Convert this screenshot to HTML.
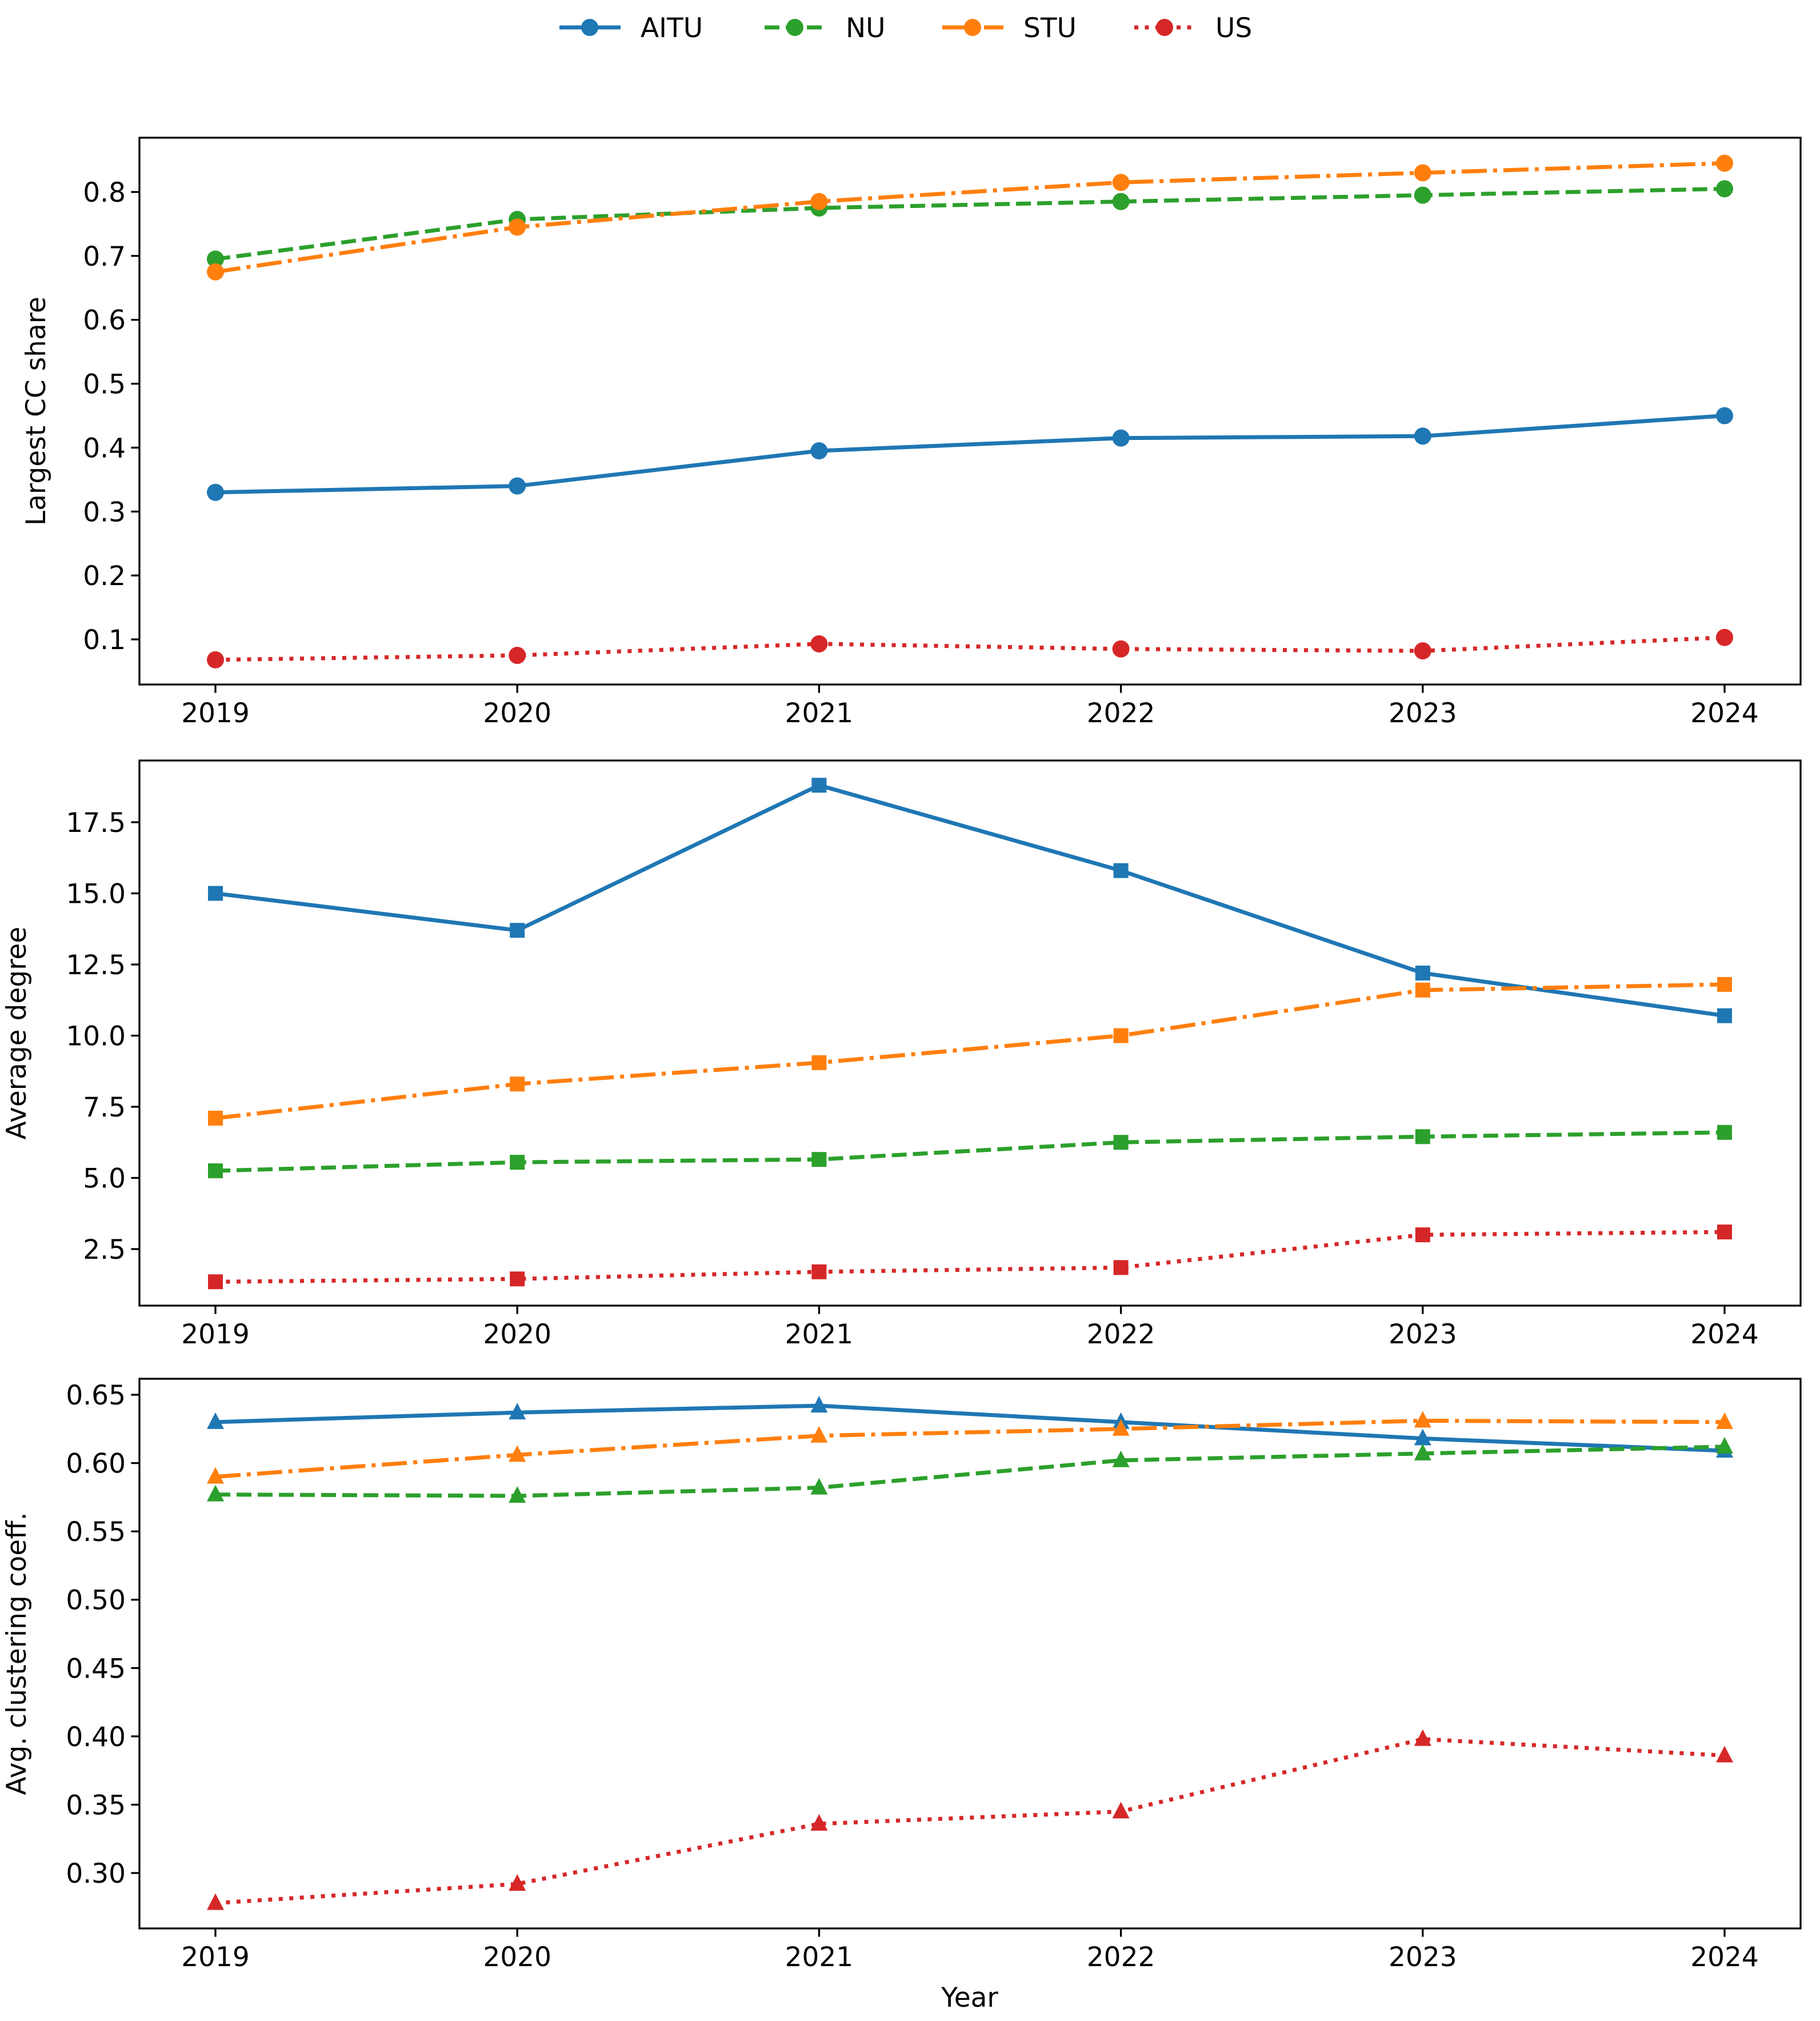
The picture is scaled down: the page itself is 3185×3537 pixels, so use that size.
<!DOCTYPE html>
<html><head><meta charset="utf-8">
<style>
html,body{margin:0;padding:0;background:#fff}
svg{display:block;font-family:"DejaVu Sans","Liberation Sans",sans-serif}
</style></head>
<body>
<svg id="chart" width="3185" height="3537" xmlns="http://www.w3.org/2000/svg"></svg>
<script>
const years = [2019, 2020, 2021, 2022, 2023, 2024];
const seriesNames = ["AITU", "NU", "STU", "US"];
const ccAITU = [0.33, 0.34, 0.395, 0.415, 0.418, 0.45];
const ccNU = [0.695, 0.757, 0.775, 0.785, 0.795, 0.805];
const ccSTU = [0.675, 0.745, 0.785, 0.815, 0.83, 0.845];
const ccUS = [0.068, 0.075, 0.093, 0.085, 0.082, 0.103];
const degAITU = [15.0, 13.7, 18.8, 15.8, 12.2, 10.7];
const degNU = [5.25, 5.55, 5.65, 6.25, 6.45, 6.6];
const degSTU = [7.1, 8.3, 9.05, 10.0, 11.6, 11.8];
const degUS = [1.35, 1.45, 1.7, 1.85, 3.0, 3.1];
const clAITU = [0.630, 0.637, 0.642, 0.630, 0.618, 0.609];
const clNU = [0.577, 0.576, 0.582, 0.602, 0.607, 0.612];
const clSTU = [0.590, 0.606, 0.620, 0.625, 0.631, 0.630];
const clUS = [0.278, 0.292, 0.336, 0.345, 0.398, 0.386];
const ccTicks = [0.1, 0.2, 0.3, 0.4, 0.5, 0.6, 0.7, 0.8];
const ccTickLabels = ["0.1","0.2","0.3","0.4","0.5","0.6","0.7","0.8"];
const degTicks = [2.5, 5.0, 7.5, 10.0, 12.5, 15.0, 17.5];
const degTickLabels = ["2.5","5.0","7.5","10.0","12.5","15.0","17.5"];
const clTicks = [0.30, 0.35, 0.40, 0.45, 0.50, 0.55, 0.60, 0.65];
const clTickLabels = ["0.30","0.35","0.40","0.45","0.50","0.55","0.60","0.65"];

const NS = "http://www.w3.org/2000/svg";
const svg = document.getElementById("chart");
const colors = ["#1f77b4", "#2ca02c", "#ff7f0e", "#d62728"];
const dashes = ["", "26,11", "44,11,7,11", "7,11.5"];
const FS = 47;
const LW = 7;
const L = 244, R = 3151;
const xDomain = [2019, 2024], xPix = [377, 3018];
function xScale(v){ return xPix[0] + (v - xDomain[0]) / (xDomain[1] - xDomain[0]) * (xPix[1] - xPix[0]); }
function mk(tag, attrs, parent){
  const e = document.createElementNS(NS, tag);
  for (const k in attrs) e.setAttribute(k, attrs[k]);
  (parent || svg).appendChild(e);
  return e;
}
function marker(g, shape, x, y, c){
  if (shape === "circle") return mk("circle", {cx:x, cy:y, r:15, fill:c}, g);
  if (shape === "square") return mk("rect", {x:x-13, y:y-13, width:26, height:26, fill:c}, g);
  return mk("polygon", {points:`${x},${y-17} ${x-15},${y+12} ${x+15},${y+12}`, fill:c}, g);
}
const panels = [
  {name:"largest-cc", top:241, bottom:1198, v0:0.8, p0:336, v1:0.1, p1:1119, ticks:ccTicks, labels:ccTickLabels, data:[ccAITU, ccNU, ccSTU, ccUS], shape:"circle", title:"Largest CC share", tx:79},
  {name:"average-degree", top:1331, bottom:2285, v0:17.5, p0:1439, v1:2.5, p1:2186, ticks:degTicks, labels:degTickLabels, data:[degAITU, degNU, degSTU, degUS], shape:"square", title:"Average degree", tx:45},
  {name:"clustering", top:2413, bottom:3375, v0:0.65, p0:2441, v1:0.30, p1:3278, ticks:clTicks, labels:clTickLabels, data:[clAITU, clNU, clSTU, clUS], shape:"triangle", title:"Avg. clustering coeff.", tx:45}
];
panels.forEach(p => {
  const yScale = v => p.p0 + (v - p.v0) / (p.v1 - p.v0) * (p.p1 - p.p0);
  const g = mk("g", {});
  
  
  p.ticks.forEach((t, i) => {
    const y = yScale(t);
    mk("line", {x1:L-14.6, x2:L, y1:y, y2:y, stroke:"#000", "stroke-width":3.3}, g);
    const tl = mk("text", {x:L-24, y:y+17, "font-size":FS, "text-anchor":"end", fill:"#000"}, g);
    tl.textContent = p.labels[i];
    
    
  });
  years.forEach(yr => {
    const x = xScale(yr);
    mk("line", {x1:x, x2:x, y1:p.bottom, y2:p.bottom+14.6, stroke:"#000", "stroke-width":3.3}, g);
    const tl = mk("text", {x:x, y:p.bottom+66, "font-size":FS, "text-anchor":"middle", fill:"#000"}, g);
    tl.textContent = String(yr);
    
    
  });
  const yt = mk("text", {x:p.tx, y:(p.top+p.bottom)/2, "font-size":FS, "text-anchor":"middle", fill:"#000", transform:`rotate(-90 ${p.tx} ${(p.top+p.bottom)/2})`}, g);
  yt.textContent = p.title;
  
  
  p.data.forEach((arr, si) => {
    const sg = mk("g", {}, g);
    
    
    const pts = arr.map((v, i) => xScale(years[i]) + "," + yScale(v)).join(" ");
    const pl = mk("polyline", {points:pts, fill:"none", stroke:colors[si], "stroke-width":LW, "stroke-dasharray":dashes[si] || "none"}, sg);
    
    
    arr.forEach((v, i) => {
      const m = marker(sg, p.shape, xScale(years[i]), yScale(v), colors[si]);
      
      
    });
  });
  const frame = mk("rect", {x:L, y:p.top, width:R-L, height:p.bottom-p.top, fill:"none", stroke:"#000", "stroke-width":3.3}, g);
  
  
});
const xt = mk("text", {x:1697, y:3512, "font-size":FS, "text-anchor":"middle", fill:"#000"});
xt.textContent = "Year";


const legX = [979, 1338, 1649, 1985];
const lg = mk("g", {});


seriesNames.forEach((n, i) => {
  const eg = mk("g", {}, lg);
  
  
  const x = legX[i];
  mk("line", {x1:x, x2:x+107, y1:48, y2:48, stroke:colors[i], "stroke-width":LW, "stroke-dasharray":dashes[i] || "none"}, eg);
  mk("circle", {cx:x+53, cy:48, r:15, fill:colors[i]}, eg);
  const t = mk("text", {x:x+142, y:65, "font-size":FS, fill:"#000"}, eg);
  t.textContent = n;
});
</script>
</body></html>
